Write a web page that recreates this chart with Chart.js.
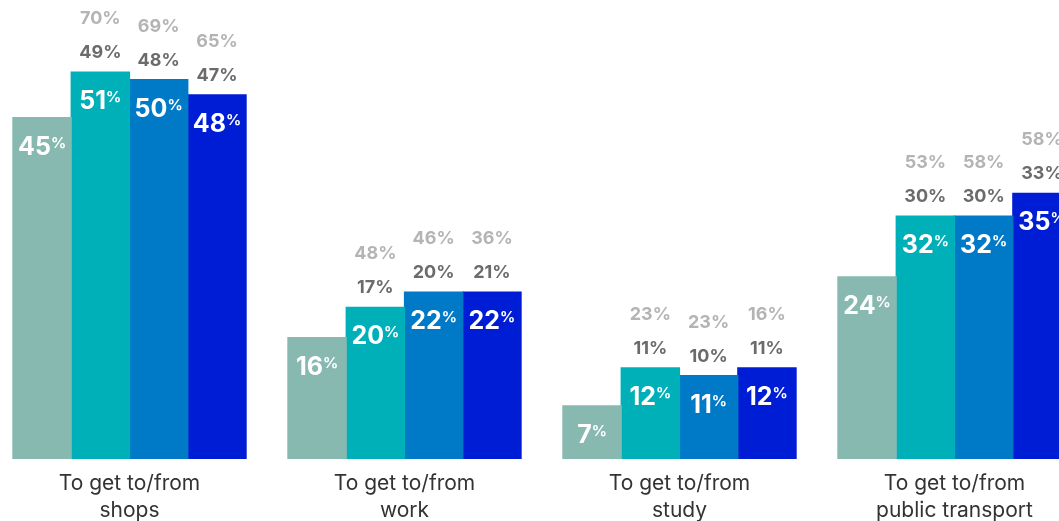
<!DOCTYPE html>
<html lang="en">
<head>
    <meta charset="UTF-8"/>
    <title>Trip purposes</title>
    <script src="https://cdn.jsdelivr.net/npm/chart.js"></script>
    <style>
        html, body {
            margin: 0;
            height: 100%;
            overflow: hidden;
            background: #fff;
        }

        #tripChart {
            position: absolute;
            left: -8px;
            top: 0;
        }
    </style>
</head>
<body>
<canvas id="tripChart" width="1100" height="527"></canvas>

<script>
    const categories = [
        ['To get to/from', 'shops'],
        ['To get to/from', 'work'],
        ['To get to/from', 'study'],
        ['To get to/from', 'public transport']
    ];

    // bar values (white labels inside the bars)
    const series1 = [45, 16, 7, 24];
    const series2 = [51, 20, 12, 32];
    const series3 = [50, 22, 11, 32];
    const series4 = [48, 22, 12, 35];

    // comparison figures printed above the bars
    const darkAbove2 = [49, 17, 11, 30];
    const darkAbove3 = [48, 20, 10, 30];
    const darkAbove4 = [47, 21, 11, 33];
    const lightAbove2 = [70, 48, 23, 53];
    const lightAbove3 = [69, 46, 23, 58];
    const lightAbove4 = [65, 36, 16, 58];

    const colors = ['#88b9b1', '#00b0b9', '#0079c6', '#001dd6'];
    const FONT = 'Inter, Roboto, sans-serif';

    const valueLabels = {
        id: 'valueLabels',
        afterDatasetsDraw(chart) {
            const ctx = chart.ctx;
            ctx.save();
            chart.data.datasets.forEach((ds, i) => {
                const meta = chart.getDatasetMeta(i);
                meta.data.forEach((bar, j) => {
                    // big number with small raised percent sign
                    const num = String(ds.data[j]);
                    ctx.font = 'bold 25px ' + FONT;
                    const wNum = ctx.measureText(num).width;
                    ctx.font = 'bold 15px ' + FONT;
                    const wPct = ctx.measureText('%').width;
                    const left = bar.x - (wNum + wPct) / 2;
                    const base = bar.y + 37;
                    ctx.fillStyle = '#fff';
                    ctx.textAlign = 'left';
                    ctx.textBaseline = 'alphabetic';
                    ctx.font = 'bold 25px ' + FONT;
                    ctx.fillText(num, left, base);
                    ctx.font = 'bold 15px ' + FONT;
                    ctx.fillText('%', left + wNum, base - 7);

                    ctx.textAlign = 'center';
                    ctx.font = 'bold 18px ' + FONT;
                    if (ds.darkAbove) {
                        ctx.fillStyle = '#6b6b6b';
                        ctx.fillText(ds.darkAbove[j] + '%', bar.x, bar.y - 14);
                    }
                    if (ds.lightAbove) {
                        ctx.fillStyle = '#b4b4b4';
                        ctx.fillText(ds.lightAbove[j] + '%', bar.x, bar.y - 48);
                    }
                });
            });
            ctx.restore();
        }
    };

    new Chart(document.getElementById('tripChart'), {
        type: 'bar',
        data: {
            labels: categories,
            datasets: [
                {data: series1, backgroundColor: colors[0]},
                {data: series2, backgroundColor: colors[1], darkAbove: darkAbove2, lightAbove: lightAbove2},
                {data: series3, backgroundColor: colors[2], darkAbove: darkAbove3, lightAbove: lightAbove3},
                {data: series4, backgroundColor: colors[3], darkAbove: darkAbove4, lightAbove: lightAbove4}
            ]
        },
        options: {
            responsive: false,
            animation: false,
            layout: {padding: 0},
            datasets: {
                bar: {categoryPercentage: 0.848, barPercentage: 1.0, borderWidth: 0, inflateAmount: 0.6}
            },
            plugins: {
                legend: {display: false},
                tooltip: {enabled: false}
            },
            scales: {
                x: {
                    grid: {display: false},
                    border: {display: false},
                    ticks: {
                        color: '#333',
                        padding: 3,
                        maxRotation: 0,
                        font: {family: FONT, size: 21, lineHeight: 27 / 21}
                    }
                },
                y: {
                    display: false,
                    min: 0,
                    max: 60.5
                }
            }
        },
        plugins: [valueLabels]
    });
</script>
</body>
</html>
